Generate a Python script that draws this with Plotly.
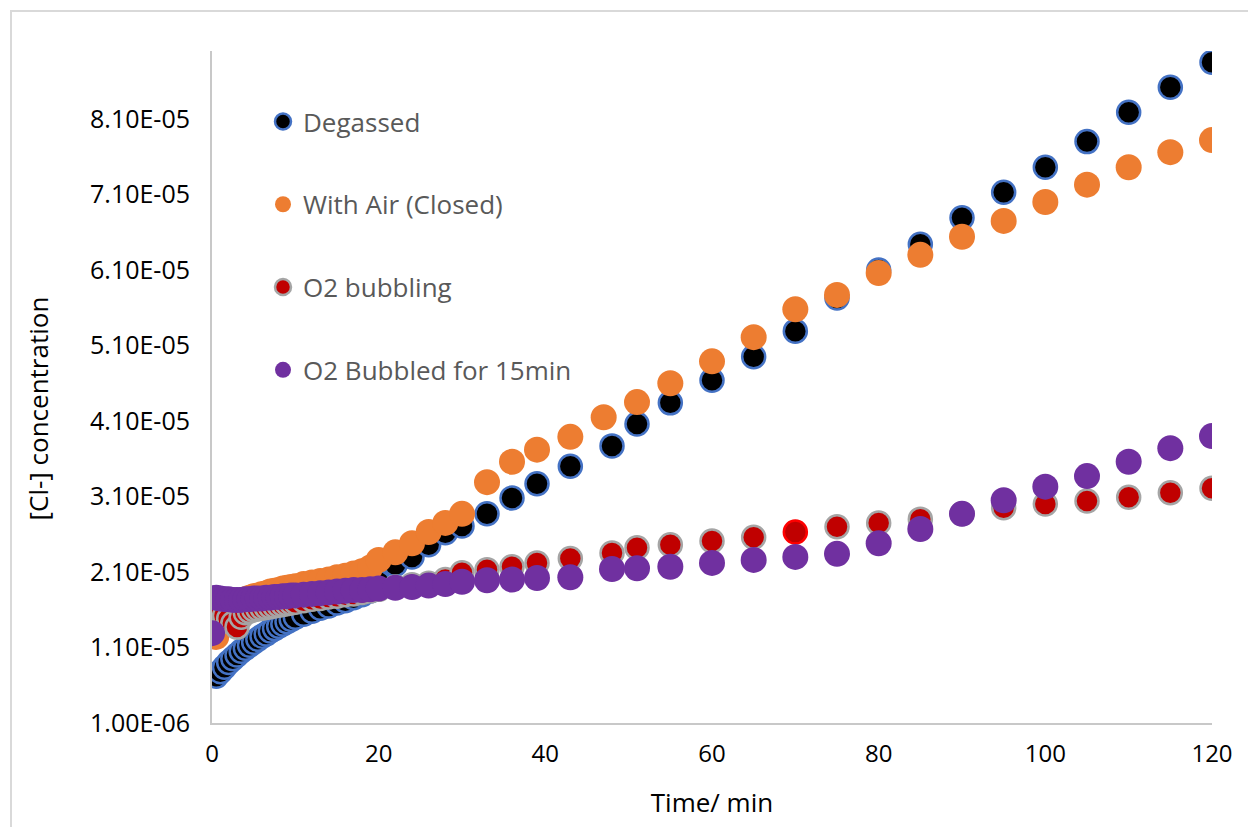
import plotly.graph_objects as go

SCALE = 1e-5  # concentrations below are listed in units of 1e-5

# Degassed
degassed_t = [0.5, 1, 1.5, 2, 2.5, 3, 3.5, 4, 4.5, 5, 5.5, 6, 6.5, 7, 7.5, 8, 8.5, 9, 9.5, 10,
              11, 12, 13, 14, 15, 16, 17, 18, 19, 20,
              22, 24, 26, 28, 30, 33, 36, 39, 43, 48, 51, 55, 60, 65, 70, 75, 80, 85, 90,
              95, 100, 105, 110, 115, 120]
degassed_c = [0.72, 0.78, 0.84, 0.90, 0.95, 1.00, 1.05, 1.09, 1.13, 1.17, 1.21, 1.25, 1.28, 1.32,
              1.35, 1.38, 1.41, 1.44, 1.47, 1.50,
              1.54, 1.58, 1.62, 1.65, 1.69, 1.72, 1.76, 1.80, 1.85, 1.96,
              2.20, 2.30, 2.46, 2.62, 2.71, 2.87, 3.08, 3.27, 3.50, 3.77, 4.06, 4.34, 4.64, 4.95,
              5.29, 5.73, 6.10, 6.44, 6.79, 7.13, 7.46, 7.80, 8.19, 8.52, 8.85]

# With Air (Closed)
air_t = [0, 0.5, 1, 1.5, 2, 2.5, 3, 3.5, 4, 4.5, 5, 5.5, 6, 6.5, 7, 7.5, 8, 8.5, 9, 9.5, 10,
         11, 12, 13, 14, 15, 16, 17, 18, 19, 20,
         22, 24, 26, 28, 30, 33, 36, 39, 43, 47, 51, 55, 60, 65, 70, 75, 80, 85, 90,
         95, 100, 105, 110, 115, 120]
air_c = [1.60, 1.24, 1.62, 1.64, 1.66, 1.68, 1.70, 1.72, 1.74, 1.76, 1.78, 1.79, 1.81, 1.82, 1.84,
         1.85, 1.86, 1.88, 1.89, 1.90, 1.91,
         1.94, 1.96, 1.98, 2.00, 2.03, 2.05, 2.08, 2.11, 2.16, 2.26,
         2.36, 2.48, 2.63, 2.75, 2.87, 3.29, 3.56, 3.72, 3.89, 4.15, 4.35, 4.60, 4.89, 5.21,
         5.58, 5.77, 6.06, 6.30, 6.54, 6.75, 7.00, 7.23, 7.46, 7.66, 7.82]

# O2 bubbling
bub_t = [0, 0.5, 1, 1.5, 2, 2.5, 3, 3.5, 4, 4.5, 5, 5.5, 6, 6.5, 7, 7.5, 8, 8.5, 9, 9.5, 10,
         11, 12, 13, 14, 15, 16, 17, 18, 19, 20,
         22, 24, 26, 28, 30, 33, 36, 39, 43, 48, 51, 55, 60, 65, 70, 75, 80, 85, 90,
         95, 100, 105, 110, 115, 120]
bub_c = [1.62, 1.55, 1.58, 1.52, 1.48, 1.42, 1.37, 1.50, 1.56, 1.58, 1.60, 1.61, 1.62, 1.63, 1.64,
         1.65, 1.66, 1.67, 1.68, 1.69, 1.70,
         1.72, 1.74, 1.75, 1.77, 1.78, 1.80, 1.81, 1.83, 1.85, 1.87,
         1.90, 1.93, 1.95, 2.00, 2.09, 2.13, 2.17, 2.22, 2.28, 2.35, 2.42, 2.46, 2.51, 2.56,
         2.63, 2.70, 2.75, 2.80, 2.87, 2.95, 3.00, 3.04, 3.09, 3.15, 3.21]

# O2 Bubbled for 15min
b15_t = [0, 0.5, 1, 1.5, 2, 2.5, 3, 3.5, 4, 4.5, 5, 5.5, 6, 6.5, 7, 7.5, 8, 8.5, 9, 9.5, 10,
         11, 12, 13, 14, 15, 16, 17, 18, 19, 20,
         22, 24, 26, 28, 30, 33, 36, 39, 43, 48, 51, 55, 60, 65, 70, 75, 80, 85, 90,
         95, 100, 105, 110, 115, 120]
b15_c = [1.29, 1.76, 1.75, 1.74, 1.74, 1.73, 1.73, 1.73, 1.74, 1.74, 1.75, 1.75, 1.75, 1.76, 1.76,
         1.77, 1.77, 1.78, 1.78, 1.79, 1.79,
         1.80, 1.81, 1.82, 1.83, 1.84, 1.85, 1.86, 1.86, 1.87, 1.88,
         1.89, 1.90, 1.92, 1.94, 1.97, 1.99, 2.00, 2.02, 2.03, 2.14, 2.15, 2.17, 2.22, 2.26,
         2.30, 2.34, 2.48, 2.67, 2.87, 3.05, 3.23, 3.37, 3.56, 3.74, 3.90]

# axis ticks
x_ticks = [0, 20, 40, 60, 80, 100, 120]
y_tick_vals = [1.0e-6, 1.1e-5, 2.1e-5, 3.1e-5, 4.1e-5, 5.1e-5, 6.1e-5, 7.1e-5, 8.1e-5]
y_tick_text = ["1.00E-06", "1.10E-05", "2.10E-05", "3.10E-05", "4.10E-05",
               "5.10E-05", "6.10E-05", "7.10E-05", "8.10E-05"]

FONT = "Open Sans"


def scaled(vals):
    return [v * SCALE for v in vals]


fig = go.Figure()

fig.add_trace(go.Scatter(
    x=degassed_t, y=scaled(degassed_c), mode="markers", name="Degassed",
    legendgroup="a",
    marker=dict(size=23, color="#000000", line=dict(color="#4472C4", width=2.5)),
))
fig.add_trace(go.Scatter(
    x=air_t, y=scaled(air_c), mode="markers", name="With Air (Closed)",
    legendgroup="b",
    marker=dict(size=26, color="#ED7D31", line=dict(width=0)),
))
bub_edge = ["#FF0000" if t == 70 else "#A5A5A5" for t in bub_t]
fig.add_trace(go.Scatter(
    x=bub_t, y=scaled(bub_c), mode="markers", name="O2 bubbling",
    legendgroup="c",
    marker=dict(size=23, color="#C00000", line=dict(color=bub_edge, width=2.5)),
))
fig.add_trace(go.Scatter(
    x=b15_t, y=scaled(b15_c), mode="markers", name="O2 Bubbled for 15min",
    legendgroup="d",
    marker=dict(size=26, color="#7030A0", line=dict(width=0)),
))

axis_line = "#C8C8C8"

fig.update_layout(
    width=1248, height=827,
    margin=dict(l=212, r=36, t=51, b=104),
    paper_bgcolor="white", plot_bgcolor="white",
    font=dict(family=FONT, color="#000000"),
    showlegend=True,
    legend=dict(
        x=0.051, y=0.93, xanchor="left", yanchor="top",
        bgcolor="rgba(0,0,0,0)", font=dict(size=26, color="#595959", family=FONT),
        traceorder="grouped", tracegroupgap=46, itemsizing="trace",
    ),
    xaxis=dict(
        range=[0, 120], tickvals=x_ticks, showgrid=False, zeroline=False,
        showline=True, linecolor=axis_line, linewidth=2, ticks="",
        tickfont=dict(size=24, color="#000000"), ticklabelstandoff=8,
        title=dict(text="Time/ min", font=dict(size=26, color="#000000"), standoff=26),
    ),
    yaxis=dict(
        range=[1.0e-6, 9.0e-5], tickvals=y_tick_vals, ticktext=y_tick_text,
        showgrid=False, zeroline=False, showline=True, linecolor=axis_line, linewidth=2,
        ticks="", tickfont=dict(size=25, color="#000000"), ticklabelstandoff=15,
    ),
    annotations=[dict(
        text="[Cl-] concentration", textangle=-90, xref="paper", yref="paper",
        x=-0.174, y=0.468, xanchor="center", yanchor="middle", showarrow=False,
        font=dict(size=26, color="#000000", family=FONT),
    )],
    shapes=[dict(
        type="rect", xref="paper", yref="paper",
        x0=-0.201, x1=1.06, y0=-0.2, y1=1.0595,
        line=dict(color="#D9D9D9", width=2), fillcolor="rgba(0,0,0,0)", layer="below",
    )],
)

fig.write_html("out.html")
